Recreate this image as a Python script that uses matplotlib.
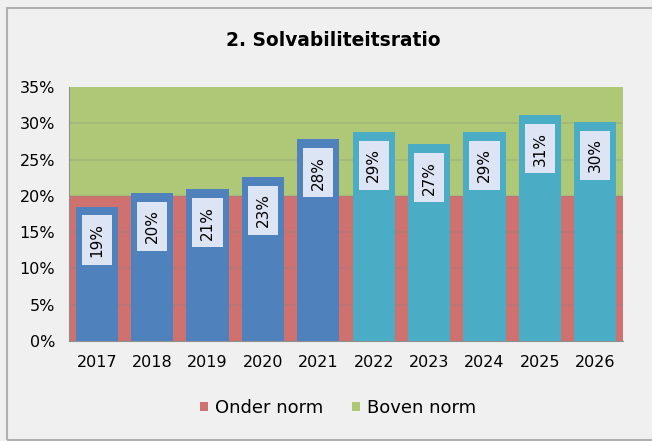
import numpy as np
import matplotlib.pyplot as plt
from matplotlib.patches import Rectangle

plt.rcParams['font.family'] = ['DejaVu Sans']

# Data
years = ['2017', '2018', '2019', '2020', '2021', '2022', '2023', '2024', '2025', '2026']
solvabiliteit = [18.5, 20.4, 20.9, 22.6, 27.8, 28.8, 27.1, 28.8, 31.1, 30.2]
labels = ['19%', '20%', '21%', '23%', '28%', '29%', '27%', '29%', '31%', '30%']
onder_norm = [20] * 10
boven_norm = [15] * 10
n_realisatie = 5  # first 5 years are realisation (dark blue), rest forecast

bar_colors = ['#4f81bd'] * n_realisatie + ['#4bacc6'] * (len(years) - n_realisatie)

fig = plt.figure(figsize=(6.52, 4.41), dpi=100)
fig.patch.set_facecolor('#f0f0f0')

# outer frame
fig.patches.append(Rectangle((7 / 652, 1 / 441), 1.0, 432 / 441, transform=fig.transFigure,
                             fill=False, edgecolor='#b0b0b0', linewidth=1.5))

ax = fig.add_axes([69 / 652, 100 / 441, 554 / 652, 254 / 441])
x = np.arange(len(years))

# background norm zones
ax.bar(x, onder_norm, width=1.0, color='#cf716f', label='Onder norm', zorder=1)
ax.bar(x, boven_norm, bottom=onder_norm, width=1.0, color='#afc878', label='Boven norm', zorder=1)

# gridlines
for yv in range(5, 35, 5):
    ax.axhline(yv, color='#808080', alpha=0.25, linewidth=1.2, zorder=2)

# bars
ax.bar(x, solvabiliteit, width=0.76, color=bar_colors, zorder=3)

for xi, val, lab in zip(x, solvabiliteit, labels):
    ax.annotate(lab, (xi, val), xytext=(0, -24), textcoords='offset points',
                rotation=90, ha='center', va='center', fontsize=11, zorder=4,
                bbox=dict(boxstyle='square,pad=0.5', facecolor='#dde4f4', edgecolor='none'))

ax.set_xlim(-0.5, len(years) - 0.5)
ax.set_ylim(0, 35)
ax.set_yticks(range(0, 40, 5))
ax.set_yticklabels([f'{v}%' for v in range(0, 40, 5)])
ax.set_xticks(x)
ax.set_xticklabels(years)
ax.tick_params(axis='both', length=0, labelsize=11.5)
ax.tick_params(axis='x', pad=10)
ax.tick_params(axis='y', pad=10)
for side in ['left', 'bottom', 'top', 'right']:
    ax.spines[side].set_color('#909090')
ax.spines['top'].set_visible(False)
ax.spines['right'].set_visible(False)

fig.text(333 / 652, 1 - 41 / 441, '2. Solvabiliteitsratio', ha='center', va='center',
         fontsize=13.4, fontweight='bold')

fig.legend(handles=ax.patches[:1] + ax.patches[10:11], labels=['Onder norm', 'Boven norm'],
           loc='center', bbox_to_anchor=(338 / 652, 1 - 408 / 441), ncol=2, frameon=False,
           fontsize=13, handlelength=0.45, handleheight=0.45, handletextpad=0.4, columnspacing=1.6)

fig.savefig('out.png', dpi=100, facecolor=fig.get_facecolor())
